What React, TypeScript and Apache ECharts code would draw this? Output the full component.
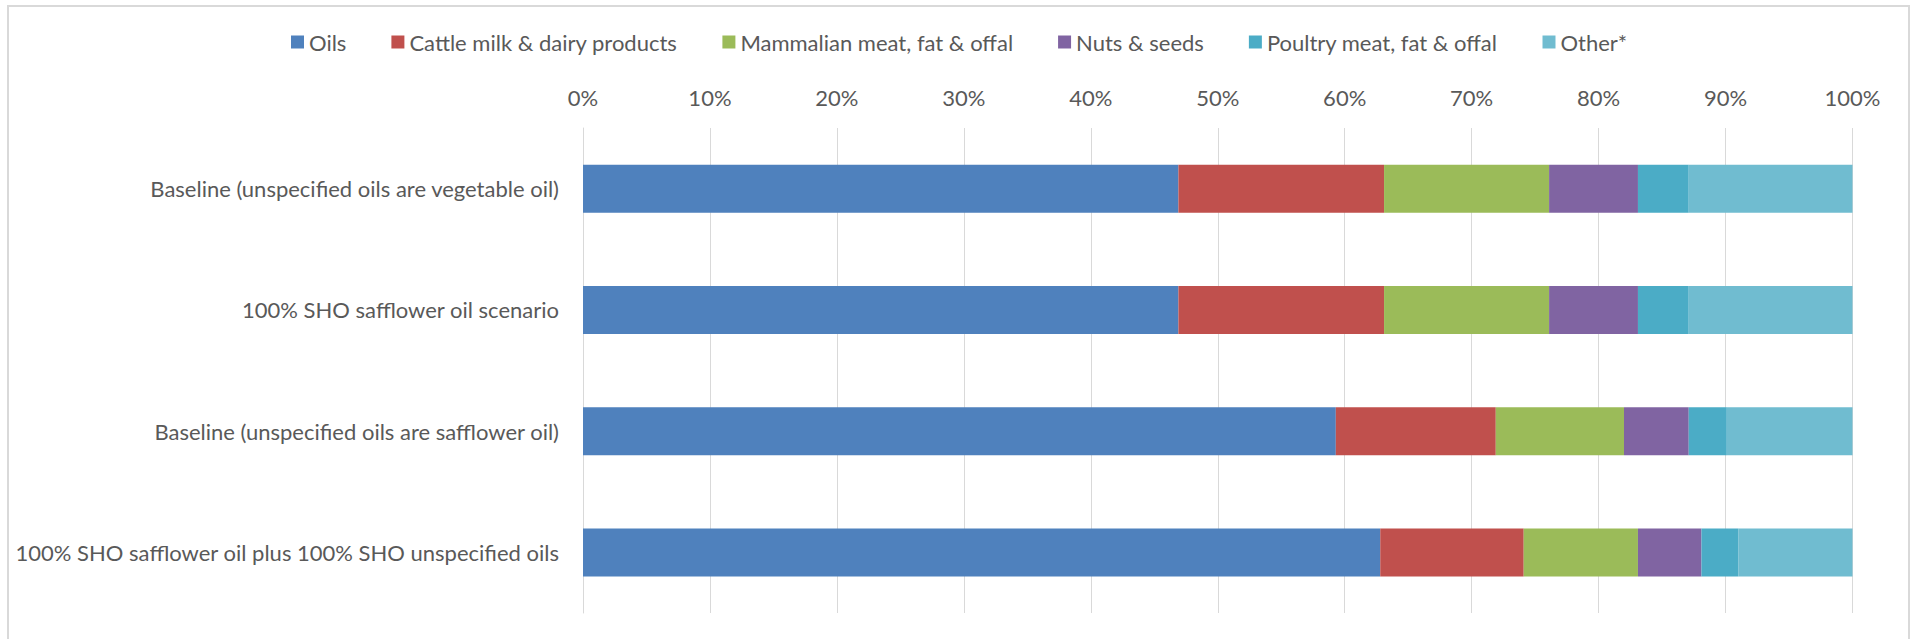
import React, { useEffect, useRef } from "react";
import * as echarts from "echarts";

const categories = [
  "Baseline (unspecified oils are vegetable oil)",
  "100% SHO safflower oil scenario",
  "Baseline (unspecified oils are safflower oil)",
  "100% SHO safflower oil plus 100% SHO unspecified oils",
];

const seriesNames = [
  "Oils",
  "Cattle milk & dairy products",
  "Mammalian meat, fat & offal",
  "Nuts & seeds",
  "Poultry meat, fat & offal",
  "Other*",
];

const oils = [46.9, 46.9, 59.3, 62.8];
const cattle = [16.2, 16.2, 12.6, 11.3];
const mammalian = [13.0, 13.0, 10.1, 9.0];
const nuts = [7.0, 7.0, 5.1, 5.0];
const poultry = [4.0, 4.0, 3.0, 2.9];
const other = [12.9, 12.9, 9.9, 9.0];

const seriesValues = [oils, cattle, mammalian, nuts, poultry, other];
const colors = ["#4F81BD", "#C0504D", "#9BBB59", "#8064A2", "#4BACC6", "#70BCD0"];

const FONT = "Lato";
const TEXT = "#595959";
const FS = 22;

export default function App() {
  const ref = useRef<HTMLDivElement>(null);
  useEffect(() => {
    if (!ref.current) return;
    const chart = echarts.init(ref.current, undefined, { renderer: "svg" });
    chart.setOption({
      animation: false,
      backgroundColor: "#ffffff",
      color: colors,
      legend: {
        top: 26,
        left: 286,
        itemWidth: 13,
        itemHeight: 13,
        itemGap: 45,
        icon: "rect",
        textStyle: { fontFamily: FONT, fontSize: FS, color: TEXT },
        data: seriesNames,
      },
      grid: { left: 583, right: 61.5, top: 128, bottom: 26, containLabel: false },
      xAxis: {
        type: "value",
        position: "top",
        min: 0,
        max: 100,
        interval: 10,
        axisLabel: {
          formatter: "{value}%",
          fontFamily: FONT,
          fontSize: FS,
          color: TEXT,
          margin: 20,
        },
        axisLine: { show: false },
        axisTick: { show: false },
        splitLine: { show: true, lineStyle: { color: "#d9d9d9", width: 1 } },
      },
      yAxis: {
        type: "category",
        inverse: true,
        data: categories,
        axisLabel: { fontFamily: FONT, fontSize: FS, color: TEXT, margin: 24 },
        axisLine: { show: true, lineStyle: { color: "#d9d9d9", width: 1 } },
        axisTick: { show: false },
      },
      graphic: [
        {
          type: "rect",
          shape: { x: 8, y: 6, width: 1901, height: 640 },
          style: { fill: "none", stroke: "#d9d9d9", lineWidth: 2 },
          silent: true,
          z: 100,
        },
      ],
      series: seriesNames.map((name, i) => ({
        name,
        type: "bar",
        stack: "total",
        barWidth: 48,
        data: seriesValues[i],
        itemStyle: { color: colors[i] },
      })),
    });
    return () => chart.dispose();
  }, []);
  return (
    <div
      ref={ref}
      style={{ position: "fixed", left: 0, top: 0, width: 1914, height: 639 }}
    />
  );
}
